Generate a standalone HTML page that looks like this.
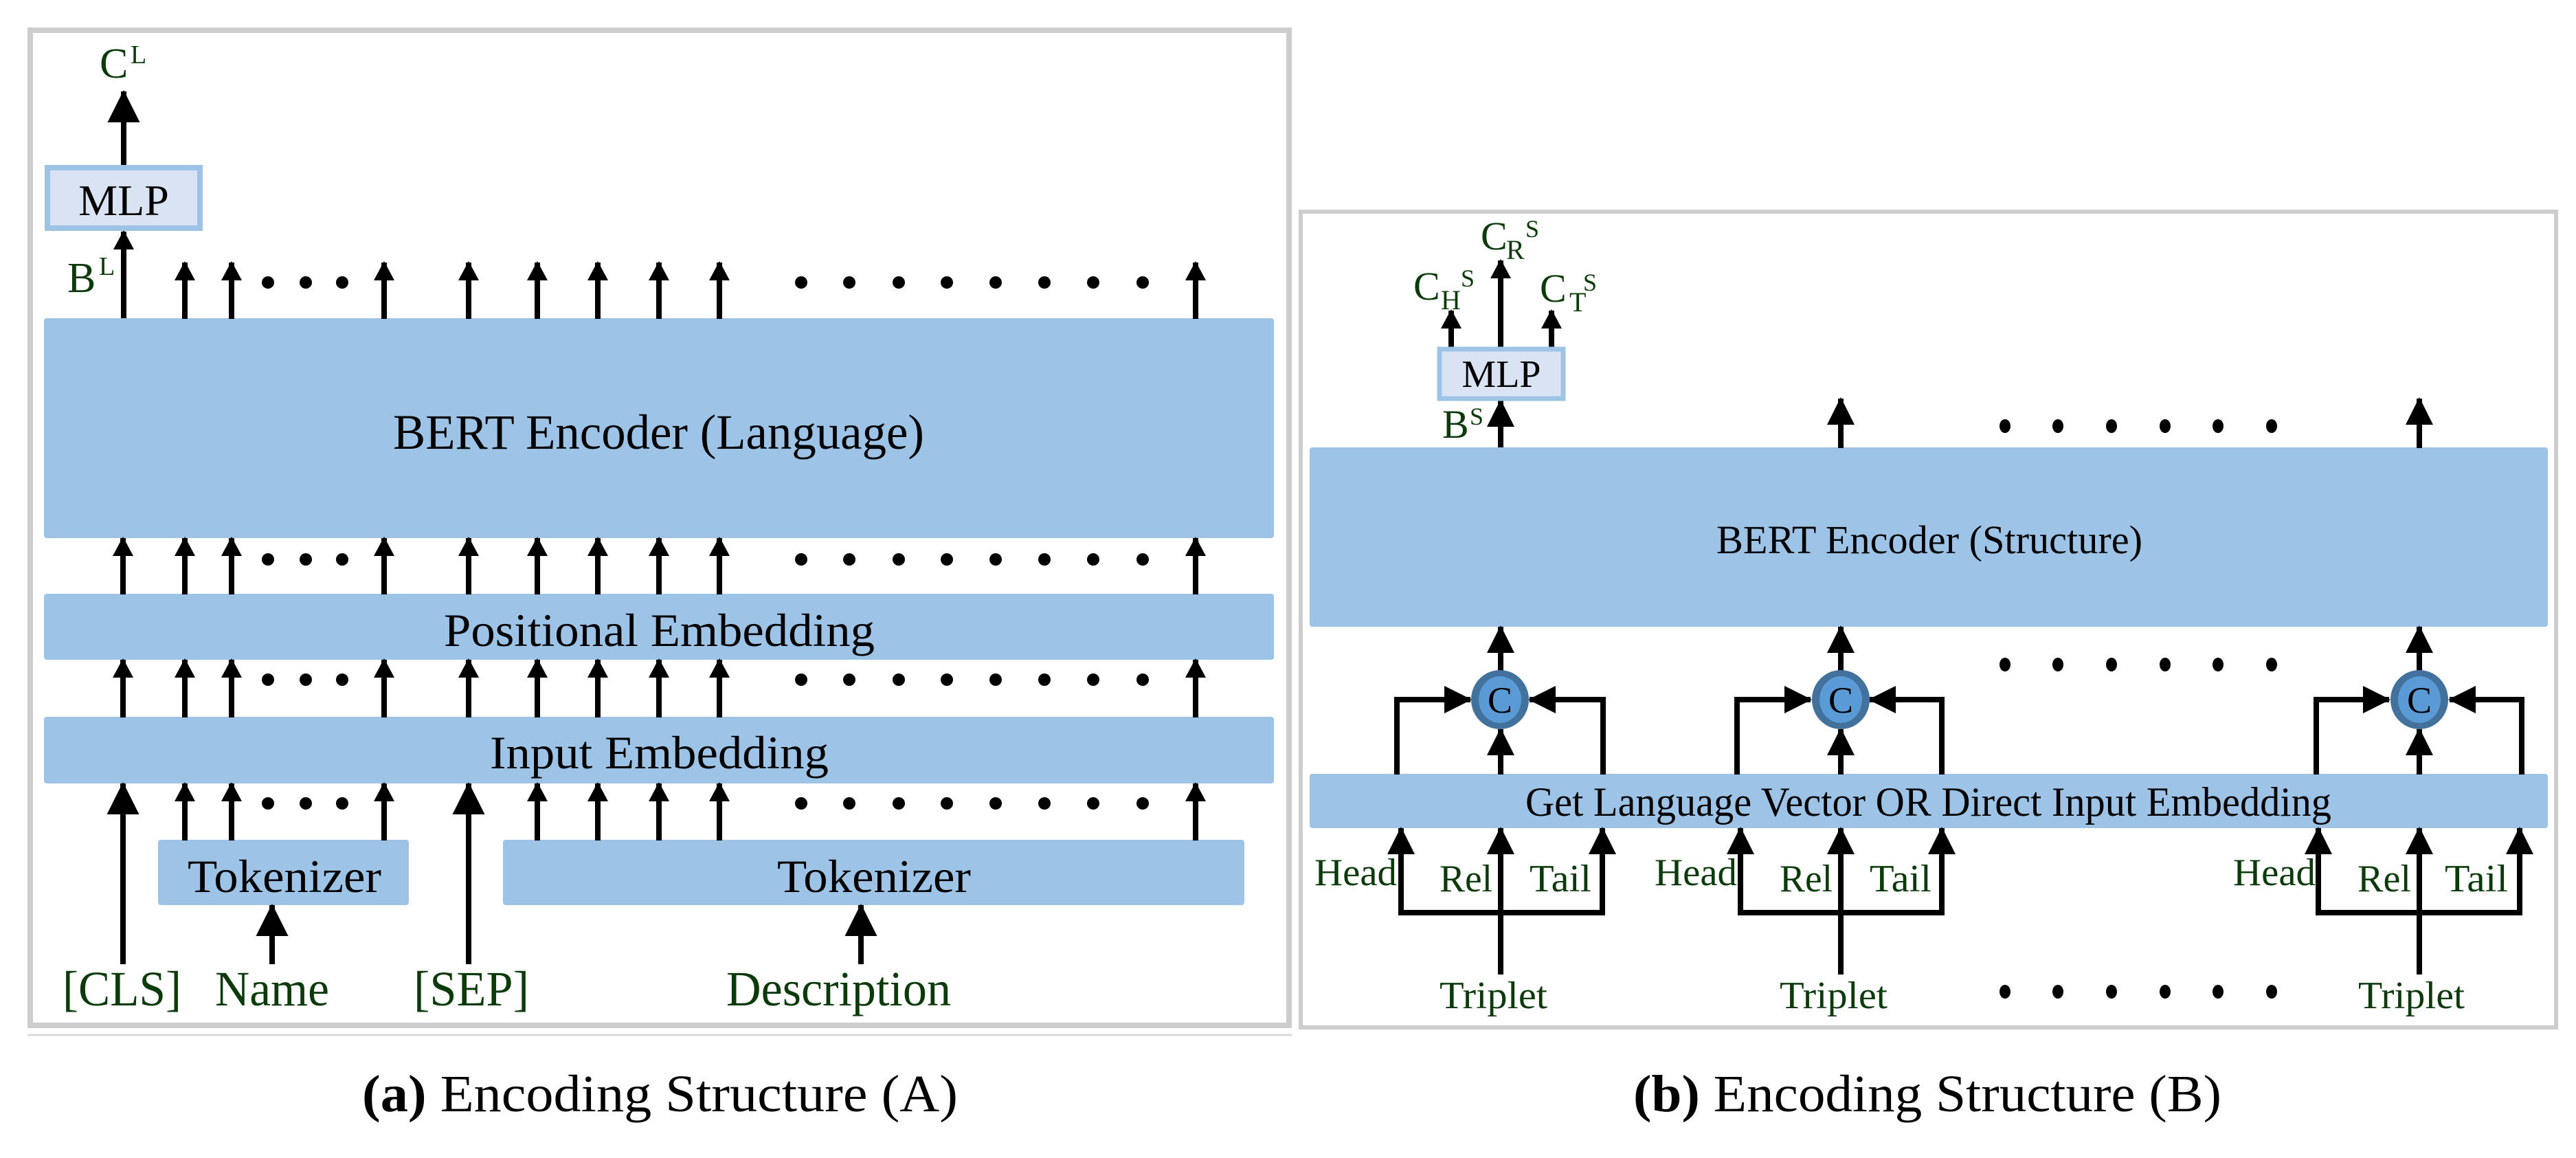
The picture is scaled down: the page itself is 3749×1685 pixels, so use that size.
<!DOCTYPE html>
<html><head><meta charset="utf-8"><style>
html,body{margin:0;padding:0;background:#fff;}
svg{display:block;}
</style></head><body>
<svg xmlns="http://www.w3.org/2000/svg" width="3749" height="1685" viewBox="0 0 3749 1685" font-family="'Liberation Serif', serif">
<defs>
<marker id="s" viewBox="0 0 28 30" markerWidth="28" markerHeight="30" refX="26" refY="15" orient="auto" markerUnits="userSpaceOnUse"><path d="M0,0 L28,15 L0,30 Z" fill="#000"/></marker>
<marker id="m" viewBox="0 0 40 40" markerWidth="40" markerHeight="40" refX="38" refY="20" orient="auto" markerUnits="userSpaceOnUse"><path d="M0,0 L40,20 L0,40 Z" fill="#000"/></marker>
<marker id="b" viewBox="0 0 47 47" markerWidth="47" markerHeight="47" refX="45" refY="23.5" orient="auto" markerUnits="userSpaceOnUse"><path d="M0,0 L47,23.5 L0,47 Z" fill="#000"/></marker>
</defs>

<!-- LEFT PANEL -->
<rect x="44" y="44" width="1832" height="1448" fill="none" stroke="#cdcdcd" stroke-width="8"/>
<line x1="40" y1="1506" x2="1880" y2="1506" stroke="#d8d8d8" stroke-width="3"/>

<g fill="#0b3a0b">
<text x="145" y="113" font-size="62">C</text>
<text x="190" y="92" font-size="38">L</text>
<text x="98" y="425" font-size="62">B</text>
<text x="144" y="400" font-size="38">L</text>
</g>
<line x1="180" y1="240" x2="180" y2="133" stroke="#000" stroke-width="8" marker-end="url(#b)"/>
<rect x="69" y="244" width="222" height="88" fill="#dae3f3" stroke="#9dc3e6" stroke-width="8"/>
<text x="180" y="313" font-size="64" text-anchor="middle">MLP</text>
<line x1="180" y1="464" x2="180" y2="337" stroke="#000" stroke-width="8" marker-end="url(#s)"/>

<rect x="64" y="463" width="1790" height="320" rx="4" fill="#9dc3e6"/>
<text x="572" y="653" font-size="72" textLength="773" lengthAdjust="spacingAndGlyphs">BERT Encoder (Language)</text>
<rect x="64" y="864" width="1790" height="96" rx="4" fill="#9dc3e6"/>
<text x="646" y="940" font-size="68" textLength="627" lengthAdjust="spacingAndGlyphs">Positional Embedding</text>
<rect x="64" y="1043" width="1790" height="97" rx="4" fill="#9dc3e6"/>
<text x="713" y="1118" font-size="68" textLength="493" lengthAdjust="spacingAndGlyphs">Input Embedding</text>
<rect x="230" y="1222" width="365" height="95" rx="4" fill="#9dc3e6"/>
<text x="273" y="1298" font-size="68" textLength="282" lengthAdjust="spacingAndGlyphs">Tokenizer</text>
<rect x="732" y="1222" width="1079" height="95" rx="4" fill="#9dc3e6"/>
<text x="1131" y="1298" font-size="68" textLength="282" lengthAdjust="spacingAndGlyphs">Tokenizer</text>

<g stroke="#000" stroke-width="8" marker-end="url(#s)">
<!-- row1 -->
<line x1="269" y1="464" x2="269" y2="382"/><line x1="337" y1="464" x2="337" y2="382"/><line x1="559" y1="464" x2="559" y2="382"/><line x1="682" y1="464" x2="682" y2="382"/><line x1="782" y1="464" x2="782" y2="382"/><line x1="870" y1="464" x2="870" y2="382"/><line x1="959" y1="464" x2="959" y2="382"/><line x1="1047" y1="464" x2="1047" y2="382"/><line x1="1740" y1="464" x2="1740" y2="382"/>
<!-- row2 -->
<line x1="179" y1="865" x2="179" y2="783"/><line x1="269" y1="865" x2="269" y2="783"/><line x1="337" y1="865" x2="337" y2="783"/><line x1="559" y1="865" x2="559" y2="783"/><line x1="682" y1="865" x2="682" y2="783"/><line x1="782" y1="865" x2="782" y2="783"/><line x1="870" y1="865" x2="870" y2="783"/><line x1="959" y1="865" x2="959" y2="783"/><line x1="1047" y1="865" x2="1047" y2="783"/><line x1="1740" y1="865" x2="1740" y2="783"/>
<!-- row3 -->
<line x1="179" y1="1044" x2="179" y2="960"/><line x1="269" y1="1044" x2="269" y2="960"/><line x1="337" y1="1044" x2="337" y2="960"/><line x1="559" y1="1044" x2="559" y2="960"/><line x1="682" y1="1044" x2="682" y2="960"/><line x1="782" y1="1044" x2="782" y2="960"/><line x1="870" y1="1044" x2="870" y2="960"/><line x1="959" y1="1044" x2="959" y2="960"/><line x1="1047" y1="1044" x2="1047" y2="960"/><line x1="1740" y1="1044" x2="1740" y2="960"/>
<!-- row4 -->
<line x1="269" y1="1223" x2="269" y2="1140"/><line x1="337" y1="1223" x2="337" y2="1140"/><line x1="559" y1="1223" x2="559" y2="1140"/><line x1="782" y1="1223" x2="782" y2="1140"/><line x1="870" y1="1223" x2="870" y2="1140"/><line x1="959" y1="1223" x2="959" y2="1140"/><line x1="1047" y1="1223" x2="1047" y2="1140"/><line x1="1740" y1="1223" x2="1740" y2="1140"/>
</g>
<g stroke="#000" stroke-width="8" marker-end="url(#b)">
<line x1="179" y1="1403" x2="179" y2="1140"/>
<line x1="682" y1="1403" x2="682" y2="1140"/>
<line x1="396" y1="1403" x2="396" y2="1317"/>
<line x1="1253" y1="1403" x2="1253" y2="1317"/>
</g>
<g fill="#000">
<circle cx="390" cy="411" r="9"/><circle cx="445" cy="411" r="9"/><circle cx="498" cy="411" r="9"/>
<circle cx="1166" cy="411" r="9"/><circle cx="1236" cy="411" r="9"/><circle cx="1308" cy="411" r="9"/><circle cx="1378" cy="411" r="9"/><circle cx="1449" cy="411" r="9"/><circle cx="1520" cy="411" r="9"/><circle cx="1591" cy="411" r="9"/><circle cx="1663" cy="411" r="9"/>
<circle cx="390" cy="814" r="9"/><circle cx="445" cy="814" r="9"/><circle cx="498" cy="814" r="9"/>
<circle cx="1166" cy="814" r="9"/><circle cx="1236" cy="814" r="9"/><circle cx="1308" cy="814" r="9"/><circle cx="1378" cy="814" r="9"/><circle cx="1449" cy="814" r="9"/><circle cx="1520" cy="814" r="9"/><circle cx="1591" cy="814" r="9"/><circle cx="1663" cy="814" r="9"/>
<circle cx="390" cy="989" r="9"/><circle cx="445" cy="989" r="9"/><circle cx="498" cy="989" r="9"/>
<circle cx="1166" cy="989" r="9"/><circle cx="1236" cy="989" r="9"/><circle cx="1308" cy="989" r="9"/><circle cx="1378" cy="989" r="9"/><circle cx="1449" cy="989" r="9"/><circle cx="1520" cy="989" r="9"/><circle cx="1591" cy="989" r="9"/><circle cx="1663" cy="989" r="9"/>
<circle cx="390" cy="1169" r="9"/><circle cx="445" cy="1169" r="9"/><circle cx="498" cy="1169" r="9"/>
<circle cx="1166" cy="1169" r="9"/><circle cx="1236" cy="1169" r="9"/><circle cx="1308" cy="1169" r="9"/><circle cx="1378" cy="1169" r="9"/><circle cx="1449" cy="1169" r="9"/><circle cx="1520" cy="1169" r="9"/><circle cx="1591" cy="1169" r="9"/><circle cx="1663" cy="1169" r="9"/>
</g>
<g fill="#0b3a0b" font-size="72">
<text x="91" y="1463" textLength="173" lengthAdjust="spacingAndGlyphs">[CLS]</text>
<text x="313" y="1463" textLength="166" lengthAdjust="spacingAndGlyphs">Name</text>
<text x="602" y="1463" textLength="168" lengthAdjust="spacingAndGlyphs">[SEP]</text>
<text x="1057" y="1463" textLength="327" lengthAdjust="spacingAndGlyphs">Description</text>
</g>
<text x="527" y="1617" font-size="76" textLength="867" lengthAdjust="spacingAndGlyphs"><tspan font-weight="bold">(a)</tspan> Encoding Structure (A)</text>

<!-- RIGHT PANEL -->
<rect x="1893" y="308" width="1827" height="1187" fill="none" stroke="#cdcdcd" stroke-width="6"/>

<g fill="#0b3a0b">
<text x="2155" y="363" font-size="58">C</text><text x="2192" y="377" font-size="40">R</text><text x="2220" y="345" font-size="36">S</text>
<text x="2057" y="436" font-size="58">C</text><text x="2097" y="450" font-size="40">H</text><text x="2126" y="417" font-size="36">S</text>
<text x="2241" y="439" font-size="58">C</text><text x="2284" y="453" font-size="40">T</text><text x="2304" y="423" font-size="36">S</text>
<text x="2099" y="637" font-size="58">B</text><text x="2139" y="618" font-size="36">S</text>
</g>
<g stroke="#000" stroke-width="8">
<line x1="2184" y1="505" x2="2184" y2="379" marker-end="url(#s)"/>
<line x1="2112" y1="505" x2="2112" y2="452" marker-end="url(#s)"/>
<line x1="2258" y1="505" x2="2258" y2="452" marker-end="url(#s)"/>
<line x1="2184" y1="652" x2="2184" y2="583" marker-end="url(#m)"/>
</g>
<rect x="2095" y="508" width="180" height="72" fill="#dae3f3" stroke="#9dc3e6" stroke-width="7"/>
<text x="2185" y="563" font-size="56" text-anchor="middle">MLP</text>

<rect x="1906" y="651" width="1802" height="261" rx="4" fill="#9dc3e6"/>
<text x="2498" y="805" font-size="58" textLength="620" lengthAdjust="spacingAndGlyphs">BERT Encoder (Structure)</text>
<rect x="1906" y="1126" width="1802" height="79" rx="4" fill="#9dc3e6"/>
<text x="2220" y="1187" font-size="60" textLength="1173" lengthAdjust="spacingAndGlyphs">Get Language Vector OR Direct Input Embedding</text>

<g stroke="#000" stroke-width="8" fill="none">
<line x1="2679" y1="652" x2="2679" y2="580" marker-end="url(#m)"/>
<line x1="3521" y1="652" x2="3521" y2="580" marker-end="url(#m)"/>
</g>

<!-- groups -->
<g stroke="#000" stroke-width="8" fill="none">
<!-- group1 -->
<line x1="2184" y1="976" x2="2184" y2="912" marker-end="url(#m)"/>
<line x1="2184" y1="1127" x2="2184" y2="1061" marker-end="url(#m)"/>
<polyline points="2033,1127 2033,1018 2140,1018" marker-end="url(#m)"/>
<polyline points="2333,1127 2333,1018 2226,1018" marker-end="url(#m)"/>
<polyline points="2039,1205 2039,1328 2332,1328 2332,1205"/>
<line x1="2039" y1="1300" x2="2039" y2="1205" marker-end="url(#m)"/>
<line x1="2332" y1="1300" x2="2332" y2="1205" marker-end="url(#m)"/>
<line x1="2184" y1="1418" x2="2184" y2="1205" marker-end="url(#m)"/>
<!-- group2 -->
<line x1="2679" y1="976" x2="2679" y2="912" marker-end="url(#m)"/>
<line x1="2679" y1="1127" x2="2679" y2="1061" marker-end="url(#m)"/>
<polyline points="2528,1127 2528,1018 2635,1018" marker-end="url(#m)"/>
<polyline points="2826,1127 2826,1018 2721,1018" marker-end="url(#m)"/>
<polyline points="2533,1205 2533,1328 2826,1328 2826,1205"/>
<line x1="2533" y1="1300" x2="2533" y2="1205" marker-end="url(#m)"/>
<line x1="2826" y1="1300" x2="2826" y2="1205" marker-end="url(#m)"/>
<line x1="2679" y1="1418" x2="2679" y2="1205" marker-end="url(#m)"/>
<!-- group3 -->
<line x1="3521" y1="976" x2="3521" y2="912" marker-end="url(#m)"/>
<line x1="3521" y1="1127" x2="3521" y2="1061" marker-end="url(#m)"/>
<polyline points="3371,1127 3371,1018 3477,1018" marker-end="url(#m)"/>
<polyline points="3670,1127 3670,1018 3565,1018" marker-end="url(#m)"/>
<polyline points="3374,1205 3374,1328 3667,1328 3667,1205"/>
<line x1="3374" y1="1300" x2="3374" y2="1205" marker-end="url(#m)"/>
<line x1="3667" y1="1300" x2="3667" y2="1205" marker-end="url(#m)"/>
<line x1="3521" y1="1418" x2="3521" y2="1205" marker-end="url(#m)"/>
</g>
<g>
<ellipse cx="2183" cy="1018" rx="42" ry="43" fill="#41719c"/><ellipse cx="2183" cy="1018" rx="31" ry="34" fill="#5b9bd5"/>
<ellipse cx="2679" cy="1018" rx="42" ry="43" fill="#41719c"/><ellipse cx="2679" cy="1018" rx="31" ry="34" fill="#5b9bd5"/>
<ellipse cx="3521" cy="1018" rx="42" ry="43" fill="#41719c"/><ellipse cx="3521" cy="1018" rx="31" ry="34" fill="#5b9bd5"/>
</g>
<g font-size="54" text-anchor="middle" fill="#000">
<text x="2183" y="1037">C</text><text x="2679" y="1037">C</text><text x="3521" y="1037">C</text>
</g>
<g fill="#000">
<ellipse cx="2918" cy="620" rx="8" ry="10"/><ellipse cx="2995" cy="620" rx="8" ry="10"/><ellipse cx="3073" cy="620" rx="8" ry="10"/><ellipse cx="3151" cy="620" rx="8" ry="10"/><ellipse cx="3228" cy="620" rx="8" ry="10"/><ellipse cx="3306" cy="620" rx="8" ry="10"/>
<ellipse cx="2918" cy="967" rx="8" ry="10"/><ellipse cx="2995" cy="967" rx="8" ry="10"/><ellipse cx="3073" cy="967" rx="8" ry="10"/><ellipse cx="3151" cy="967" rx="8" ry="10"/><ellipse cx="3228" cy="967" rx="8" ry="10"/><ellipse cx="3306" cy="967" rx="8" ry="10"/>
<ellipse cx="2918" cy="1443" rx="8" ry="10"/><ellipse cx="2995" cy="1443" rx="8" ry="10"/><ellipse cx="3073" cy="1443" rx="8" ry="10"/><ellipse cx="3151" cy="1443" rx="8" ry="10"/><ellipse cx="3228" cy="1443" rx="8" ry="10"/><ellipse cx="3306" cy="1443" rx="8" ry="10"/>
</g>
<g fill="#0b3a0b" font-size="56">
<text x="1913" y="1288" textLength="120" lengthAdjust="spacingAndGlyphs">Head</text>
<text x="2095" y="1297" textLength="77" lengthAdjust="spacingAndGlyphs">Rel</text>
<text x="2226" y="1297" textLength="90" lengthAdjust="spacingAndGlyphs">Tail</text>
<text x="2408" y="1288" textLength="120" lengthAdjust="spacingAndGlyphs">Head</text>
<text x="2590" y="1297" textLength="77" lengthAdjust="spacingAndGlyphs">Rel</text>
<text x="2721" y="1297" textLength="90" lengthAdjust="spacingAndGlyphs">Tail</text>
<text x="3250" y="1288" textLength="120" lengthAdjust="spacingAndGlyphs">Head</text>
<text x="3431" y="1297" textLength="78" lengthAdjust="spacingAndGlyphs">Rel</text>
<text x="3558" y="1297" textLength="92" lengthAdjust="spacingAndGlyphs">Tail</text>
<text x="2095" y="1467" textLength="157" lengthAdjust="spacingAndGlyphs">Triplet</text>
<text x="2590" y="1467" textLength="157" lengthAdjust="spacingAndGlyphs">Triplet</text>
<text x="3432" y="1467" textLength="155" lengthAdjust="spacingAndGlyphs">Triplet</text>
</g>
<text x="2377" y="1617" font-size="76" textLength="856" lengthAdjust="spacingAndGlyphs"><tspan font-weight="bold">(b)</tspan> Encoding Structure (B)</text>
</svg>
</body></html>
